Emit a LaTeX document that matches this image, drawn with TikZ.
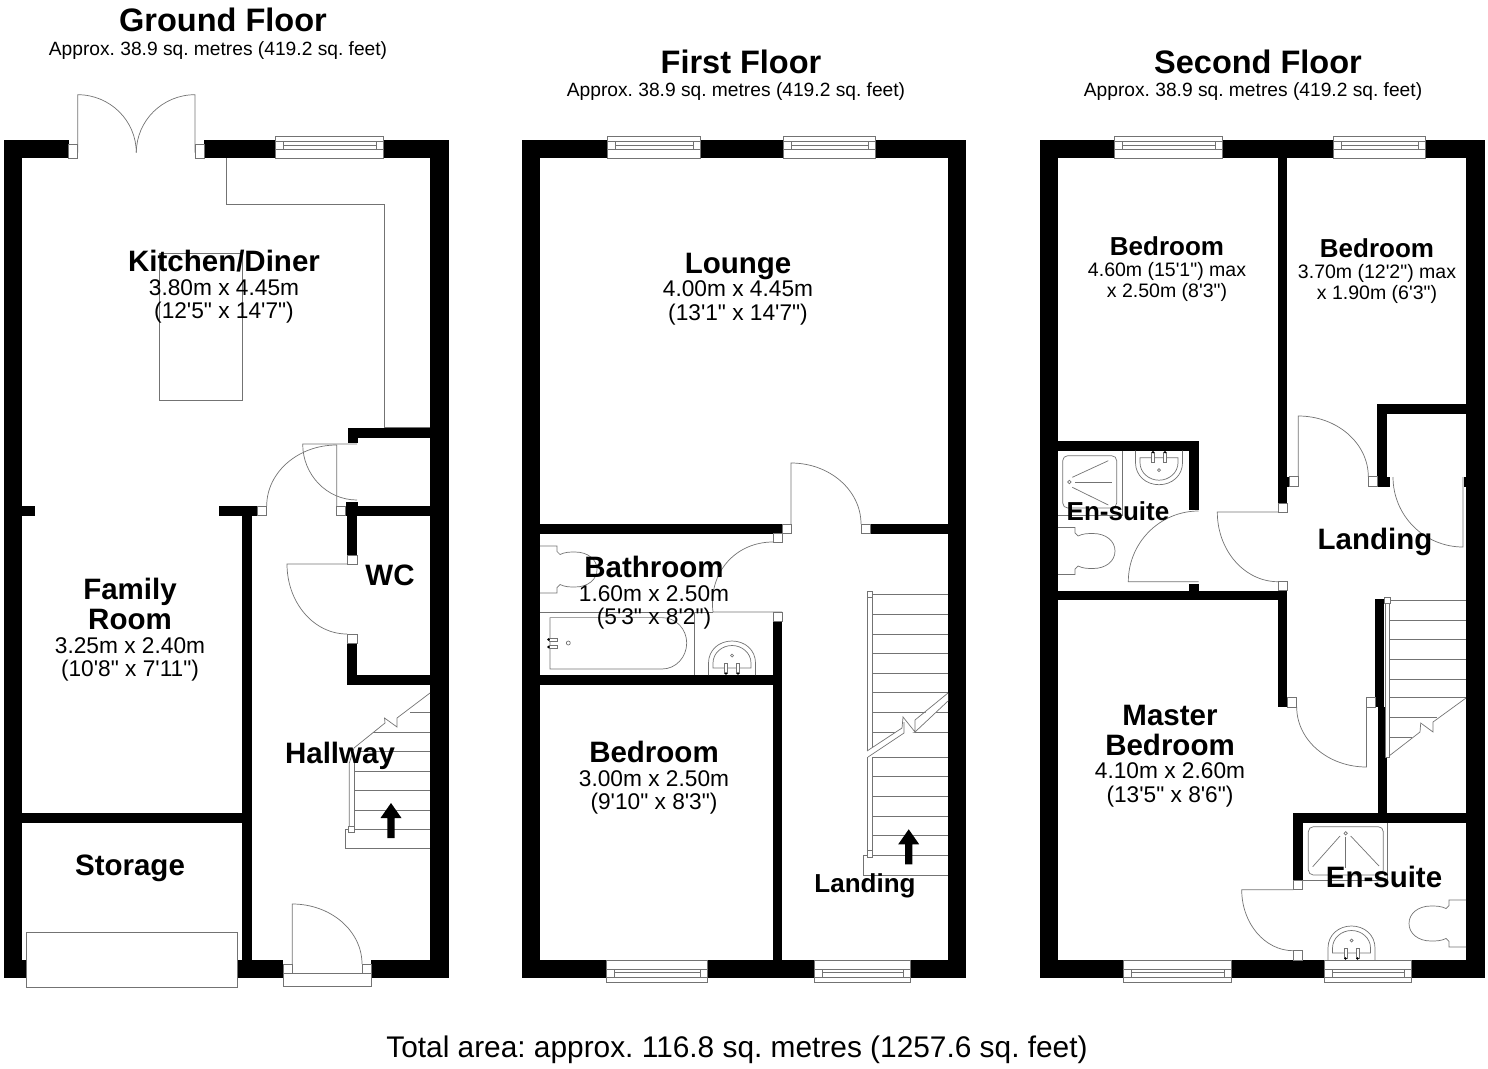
\documentclass[tikz,border=0pt]{standalone}
\usepackage{fontspec}
\usetikzlibrary{calc}
\newfontfamily\plansans{Liberation Sans}
\definecolor{planline}{gray}{0.45}
\tikzset{
    wall/.style={fill=black},
    fixture/.style={draw=planline, line width=0.7pt},
    jamb/.style={fixture, fill=white},
    floorname/.style={font=\plansans\bfseries\fontsize{32.5}{36}\selectfont, inner sep=0pt},
    floorarea/.style={font=\plansans\frenchspacing\fontsize{19.2}{20}\selectfont, inner sep=0pt},
    totalarea/.style={font=\plansans\frenchspacing\fontsize{29.85}{32}\selectfont, inner sep=0pt},
    room/.style={font=\plansans\fontsize{22.7}{23.5}\selectfont, align=center, anchor=north, inner sep=0pt},
    smallroom/.style={font=\plansans\fontsize{19.5}{21}\selectfont, align=center, anchor=north, inner sep=0pt},
}
\newcommand{\bigname}[1]{{\bfseries\fontsize{29.5}{29}\selectfont #1}}
\newcommand{\midname}[1]{{\bfseries\fontsize{26}{26}\selectfont #1}}
\newcommand{\doorswing}[3]{\draw[fixture] #1 -- #2 .. controls ($#2+0.5523*#3-0.5523*#1$) and ($#3+0.5523*#2-0.5523*#1$) .. #3;}
\newcommand{\windowbar}[4]{
    \begin{scope}[shift={(#1,#3)}, yscale=#4]
        \draw[jamb] (0,0) rectangle (#2-#1,22);
        \draw[fixture] (0,9) -- (#2-#1,9);
        \draw[fixture] (8,12.3) -- (#2-#1-7,12.3);
        \draw[fixture] (0,17) -- (#2-#1,17);
        \draw[fixture] (8,9) -- (8,17);
        \draw[fixture] (#2-#1-7,9) -- (#2-#1-7,17);
    \end{scope}
}
\newcommand{\toilet}[3]{
    \begin{scope}[shift={(#1,#2)}, rotate=#3]
        \draw[fixture] (0,-23.5) -- (17,-23.5) -- (17,-18) -- (20,-15) .. controls (25,-17.5) and (30,-17.5) .. (35,-17.5) .. controls (48,-17.5) and (57,-10) .. (57,0) .. controls (57,10) and (48,17.5) .. (35,17.5) .. controls (30,17.5) and (25,17.5) .. (20,15) -- (17,18) -- (17,23.5) -- (0,23.5);
    \end{scope}
}
\newcommand{\basin}[3]{
    \begin{scope}[shift={(#1,#2)}, yscale=#3]
        \draw[fixture] (-23.5,0) -- (-23.5,12) .. controls (-23.5,25) and (-13,34) .. (0,34) .. controls (13,34) and (23.5,25) .. (23.5,12) -- (23.5,0);
        \draw[fixture] (-19,7) -- (-19,12) .. controls (-19,22) and (-10,29.5) .. (0,29.5) .. controls (10,29.5) and (19,22) .. (19,12) -- (19,7) -- cycle;
        \draw[fixture] (0,19.5) circle (1.5);
        \foreach \tapx in {-6,6} {
            \draw[jamb] (\tapx-1.5,1.5) rectangle (\tapx+1.5,11.5);
            \fill (\tapx,1.5) circle (1.3);
        }
    \end{scope}
}
\newcommand{\stairarrow}[2]{\fill (#1,#2) -- (#1+10.5,#2+15) -- (#1+3.7,#2+15) -- (#1+3.7,#2+35) -- (#1-3.7,#2+35) -- (#1-3.7,#2+15) -- (#1-10.5,#2+15) -- cycle;}
\begin{document}
\begin{tikzpicture}[x=1pt, y=-1pt]
    \useasboundingbox (0,0) rectangle (1488,1068);

    % ground floor
    \foreach \xa/\ya/\xb/\yb in {3.5/139.5/68.5/158, 204/139.5/449/158, 3.5/139.5/22/978, 430/139.5/449/978,
        3.5/960/283/978, 371/960/449/978, 348/428/430/438, 348/438/358/443, 346/502/358/515, 345.7/506/430/515.5,
        347/515/357/555, 347/643/357/685, 347/675/430/685, 218.5/506/257.5/515.5, 22/506/35/515.5,
        242/515/251.7/960, 22/813/242/823}
        \fill[wall] (\xa,\ya) rectangle (\xb,\yb);
    \windowbar{275}{383}{158}{-1}
    \draw[fixture] (226.7,158) -- (226.7,204) -- (384.5,204) -- (384.5,427.7) -- (430,427.7);
    \draw[fixture] (159.7,253) rectangle (242,400.7);
    \doorswing{(77.7,152.7)}{(77.7,94.7)}{(136.3,152.7)}
    \doorswing{(195,152.7)}{(195,94.7)}{(136.3,152.7)}
    \doorswing{(357,444)}{(302.7,444)}{(357,500)}
    \doorswing{(336.7,506)}{(336.7,445)}{(266.7,506)}
    \doorswing{(347,564)}{(287,564)}{(347,634)}
    \doorswing{(292.3,964)}{(292.3,904)}{(362,964)}
    \draw[jamb] (26.3,932.7) rectangle (237,987);
    \draw[jamb] (283,973) rectangle (371.7,986.5);
    \foreach \xa/\ya/\xb/\yb in {68.5/144/77.7/158, 195/144/204/158, 257.3/506/266.7/515.5, 336.7/506/345.7/515.5,
        347/555/357/564, 347/634/357/643, 283/964/292.3/973, 362/964/371.7/973}
        \draw[jamb] (\xa,\ya) rectangle (\xb,\yb);
    \foreach \treadx/\tready in {354/829, 354/810, 354/790, 354/771, 358/751, 373/732, 410/712}
        \draw[fixture] (\treadx,\tready) -- (430,\tready);
    \draw[fixture] (430,829) -- (345.7,829) -- (345.7,848) -- (430,848);
    \draw[fixture] (349.3,829) -- (349.3,763) -- (354,748) -- (385,723) -- (384.5,718) -- (397,727) -- (397,718) -- (430,693);
    \draw[fixture] (354,829) -- (354,763);
    \draw[jamb] (348.5,826.5) rectangle (354.5,832.5);
    \stairarrow{391}{803}

    % first floor
    \foreach \xa/\ya/\xb/\yb in {522/139.5/966/158, 522/139.5/540/978, 948/139.5/966/978, 522/960/966/978,
        540/524/782/533.5, 870/524/948/533.5, 773/621/782/960, 540/675/782/684.5}
        \fill[wall] (\xa,\ya) rectangle (\xb,\yb);
    \windowbar{607}{700}{158}{-1}
    \windowbar{783}{875}{158}{-1}
    \windowbar{606}{707}{960}{1}
    \windowbar{814}{910}{960}{1}
    \doorswing{(791,524)}{(791,463)}{(861,524)}
    \doorswing{(782,612)}{(713,612)}{(773,542)}
    \foreach \xa/\ya/\xb/\yb in {782/524/791/533.5, 861/524/870/533.5, 773/533.5/782/542.5, 773/612/782/621}
        \draw[jamb] (\xa,\ya) rectangle (\xb,\yb);
    \draw[fixture] (540,612) -- (713,612);
    \draw[fixture] (694,612) -- (694,675);
    \draw[fixture] (550,617.6) -- (662,617.6) .. controls (676,617.6) and (686.7,629) .. (686.7,643) .. controls (686.7,657) and (676,669) .. (662,669) -- (550,669) -- cycle;
    \draw[fixture] (568.3,643) circle (2);
    \foreach \bathy in {638, 645.5} {
        \draw[jamb] (549,\bathy) rectangle (557,\bathy+3);
        \fill (548.5,\bathy+1.5) circle (1.3);
    }
    \toilet{540}{569.5}{0}
    \basin{732}{675}{-1}
    \foreach \tready in {594.8, 614.4, 634, 653.6, 673.2, 692.8, 712.4, 732, 757, 776.6, 796.5, 816, 835.5, 855}
        \draw[fixture] (872,\tready) -- (948,\tready);
    \draw[fixture] (948,855) -- (863,855) -- (863,875) -- (948,875);
    \draw[fixture] (867,597) -- (867,751);
    \draw[fixture] (872,597) -- (872,748);
    \draw[fixture] (867,757) -- (867,852);
    \draw[fixture] (872,757) -- (872,852);
    \draw[fill=white, draw=none] (867,751) -- (902,728) -- (915,722) -- (948,693) -- (948,701) -- (915,732) -- (904,735) -- (868,757) -- cycle;
    \draw[fixture] (867,751) -- (902,728) -- (903,717) -- (915,732) -- (915,720) -- (948,693);
    \draw[fixture] (868,757) -- (904,733) -- (904,722);
    \draw[fixture] (915,732) -- (948,701);
    \draw[jamb] (867,591) rectangle (872,597.6);
    \draw[jamb] (867,850) rectangle (872,857);
    \stairarrow{908.7}{829.3}

    % second floor
    \foreach \xa/\ya/\xb/\yb in {1040/139.5/1485/158, 1040/139.5/1058/978, 1466/139.5/1485/978, 1040/960/1485/978,
        1278/158/1287/503, 1287/476.7/1289/486.7, 1377.3/404.3/1387.3/486.7, 1377.3/404.3/1466/414, 1377.3/476.7/1390/486.7,
        1464/477/1466/487, 1058/441/1198.7/450.7, 1189.3/441/1198.7/510, 1189.3/584/1198.7/591, 1058/590.7/1287/600,
        1278/591/1287/707, 1375/599/1384/707, 1378/707/1387/813, 1293.3/812.7/1466/822.7, 1293.3/812.7/1302.7/880}
        \fill[wall] (\xa,\ya) rectangle (\xb,\yb);
    \windowbar{1114}{1222}{158}{-1}
    \windowbar{1333}{1425}{158}{-1}
    \windowbar{1123}{1231}{960}{1}
    \windowbar{1324.3}{1411}{960}{1}
    \doorswing{(1198.7,581.7)}{(1128.3,581.7)}{(1198.7,511)}
    \doorswing{(1278,512)}{(1217.3,512)}{(1278,581.7)}
    \doorswing{(1298.3,476.7)}{(1298.3,416)}{(1368.3,476.7)}
    \doorswing{(1463,477)}{(1463,547)}{(1393,477)}
    \doorswing{(1366.5,707)}{(1366.5,767)}{(1296.7,707)}
    \doorswing{(1293.3,889.7)}{(1241.7,889.7)}{(1293.3,950.7)}
    \foreach \xa/\ya/\xb/\yb in {1278/503/1287/512, 1278/581.7/1287/590.7, 1289/476.7/1298.3/486.7, 1368.3/476.7/1377.3/486.7,
        1287/697/1296.7/707, 1366/697/1375/707, 1293.3/880/1302.7/889.7, 1293.3/950.7/1302.7/960}
        \draw[jamb] (\xa,\ya) rectangle (\xb,\yb);
    \draw[fixture] (1122,450.7) -- (1122,515) -- (1058,515);
    \draw[fixture, rounded corners=5pt] (1062.7,455.7) rectangle (1116.7,508);
    \draw[fixture] (1069.3,482) circle (1.7);
    \draw[fixture] (1072.3,477.3) -- (1108.3,460.7);
    \draw[fixture] (1075,482) -- (1112.3,482);
    \draw[fixture] (1072.3,487.3) -- (1108.3,505);
    \basin{1159}{450.7}{1}
    \toilet{1058}{551}{0}
    \draw[fixture] (1387.7,822.7) -- (1387.7,880) -- (1302.7,880);
    \draw[fixture, rounded corners=5pt] (1308.3,826.7) rectangle (1383.3,875);
    \draw[fixture] (1345.7,833.3) circle (1.7);
    \draw[fixture] (1340,836) -- (1312.7,866.7);
    \draw[fixture] (1345.7,836.7) -- (1345.7,868.3);
    \draw[fixture] (1350.7,836) -- (1379,866);
    \basin{1351.5}{960}{-1}
    \toilet{1466}{923.5}{180}
    \foreach \treadx/\tready in {1389/600.7, 1389/620, 1389/639, 1389/659, 1389/679, 1389/697.7, 1389/717, 1389/737}
        \draw[fixture] (\treadx,\tready) -- ({\tready==717 ? 1437 : (\tready==737 ? 1412 : 1466)},\tready);
    \draw[jamb] (1385,600) rectangle (1389,757);
    \draw[fixture] (1389,756) -- (1420,732) -- (1420.7,723) -- (1433,732) -- (1433,722) -- (1466,698);
    \draw[jamb] (1384,597) rectangle (1390,603);

    % texts
    \node[floorname] (groundtitle) at (223,20) {Ground Floor};
    \node[floorarea] (groundarea) at (218,51) {Approx. 38.9 sq. metres (419.2 sq. feet)};
    \node[floorname] (firsttitle) at (741,62) {First Floor};
    \node[floorarea] (firstarea) at (736,92) {Approx. 38.9 sq. metres (419.2 sq. feet)};
    \node[floorname] (secondtitle) at (1258,62) {Second Floor};
    \node[floorarea] (secondarea) at (1253,92) {Approx. 38.9 sq. metres (419.2 sq. feet)};
    \node[totalarea] (total) at (737,1050) {Total area: approx. 116.8 sq. metres (1257.6 sq. feet)};

    \node[room] (kitchen) at (224,250) {\bigname{Kitchen/Diner}\\3.80m x 4.45m\\(12'5" x 14'7")};
    \node[room] (family) at (130,578) {\bigname{Family}\\[2.5pt]\bigname{Room}\\3.25m x 2.40m\\(10'8" x 7'11")};
    \node[room] (storage) at (130,855) {\bigname{Storage}};
    \node[room] (hallway) at (340,742) {\bigname{Hallway}};
    \node[room] (wc) at (390,565) {\bigname{WC}};

    \node[room] (lounge) at (738,253) {\bigname{Lounge}\\4.00m x 4.45m\\(13'1" x 14'7")};
    \node[room] (bathroom) at (654,556) {\bigname{Bathroom}\\1.60m x 2.50m\\(5'3" x 8'2")};
    \node[room] (bedroomfirst) at (654,741) {\bigname{Bedroom}\\3.00m x 2.50m\\(9'10" x 8'3")};
    \node[room] (landingfirst) at (865,873) {\midname{Landing}};

    \node[smallroom] (bedroomleft) at (1167,236) {\midname{Bedroom}\\4.60m (15'1") max\\x 2.50m (8'3")};
    \node[smallroom] (bedroomright) at (1377,238) {\midname{Bedroom}\\3.70m (12'2") max\\x 1.90m (6'3")};
    \node[room] (ensuiteup) at (1118,501) {\midname{En-suite}};
    \node[room] (landingsecond) at (1375,528) {\bigname{Landing}};
    \node[room] (master) at (1170,705) {\bigname{Master}\\[6pt]\bigname{Bedroom}\\4.10m x 2.60m\\(13'5" x 8'6")};
    \node[room] (ensuitelow) at (1384,866) {\bigname{En-suite}};
\end{tikzpicture}
\end{document}
